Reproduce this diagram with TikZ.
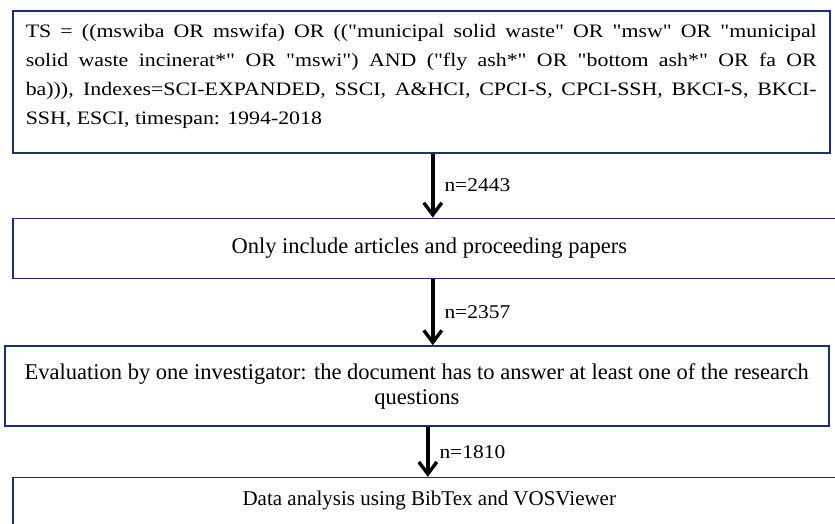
\documentclass[tikz,border=0pt]{standalone}
\usepackage{fontspec}
\setmainfont{Liberation Serif}
\newfontfamily\wideserif[FakeStretch=1.15]{Liberation Serif}
\newfontfamily\labelserif[FakeStretch=1.1]{Liberation Serif}
\usetikzlibrary{arrows.meta,positioning}
\definecolor{boxNavy}{RGB}{32,46,110}
\tikzset{
  query box/.style={draw=boxNavy,line width=1.6pt,anchor=north west,align=justify,text width=791pt,inner xsep=13pt,inner ysep=0pt,minimum width=817pt,font=\wideserif\fontsize{19}{29}\selectfont},
  stage box/.style={draw=boxNavy,line width=1.6pt,align=center,inner xsep=0pt,font=\fontsize{22.5}{25}\selectfont},
  count arrow/.style={-{Straight Barb[length=12pt,width=18pt]},line width=3.4pt,draw=black},
  count label/.style={right=9pt,inner sep=1pt,font=\labelserif\fontsize{19.5}{22}\selectfont}
}
\begin{document}
\begin{tikzpicture}
      \fill[white] (0,0) rectangle (835pt,-524pt);
      \clip (0,0) rectangle (835pt,-524pt);
      \useasboundingbox (0,0) rectangle (835pt,-524pt);
      \node[query box] (query) at (12pt,-10pt) {\hyphenpenalty=10000\tolerance=9999\rule{0pt}{27pt}TS = ((mswiba OR mswifa) OR (("municipal solid waste" OR "msw" OR "municipal\linebreak solid waste incinerat*" OR "mswi") AND ("fly ash*" OR "bottom ash*" OR fa OR\linebreak ba))), Indexes=SCI-EXPANDED, SSCI, A\&HCI, CPCI-S, CPCI-SSH, BKCI-S, BKCI-\linebreak SSH, ESCI, timespan: 1994-2018\rule[-28pt]{0pt}{28pt}};
      \node[stage box,minimum width=833pt,minimum height=60pt,below=64pt of query.south west,anchor=north west] (filter) {Only include articles and proceeding papers};
      \node[stage box,minimum width=824pt,minimum height=80pt,below=66pt of filter.south west,anchor=north west,xshift=-8pt] (evaluation) {Evaluation by one investigator: the document has to answer at least one of the research\\questions};
      \node[stage box,minimum width=833pt,text height=15pt,text depth=30pt,inner ysep=13pt,font=\fontsize{21}{25}\selectfont,below=50pt of evaluation.south west,anchor=north west,xshift=8pt] (analysis) {Data analysis using BibTex and VOSViewer};
      \draw[count arrow] ([xshift=11.5pt]query.south) -- ([xshift=11.5pt]query.south |- filter.north) node[count label,midway] {n=2443};
      \draw[count arrow] ([xshift=3.5pt]filter.south) -- ([xshift=3.5pt]filter.south |- evaluation.north) node[count label,midway] {n=2357};
      \draw[count arrow] ([xshift=11pt]evaluation.south) -- ([xshift=11pt]evaluation.south |- analysis.north) node[count label,midway] {n=1810};
    \end{tikzpicture}
\end{document}
